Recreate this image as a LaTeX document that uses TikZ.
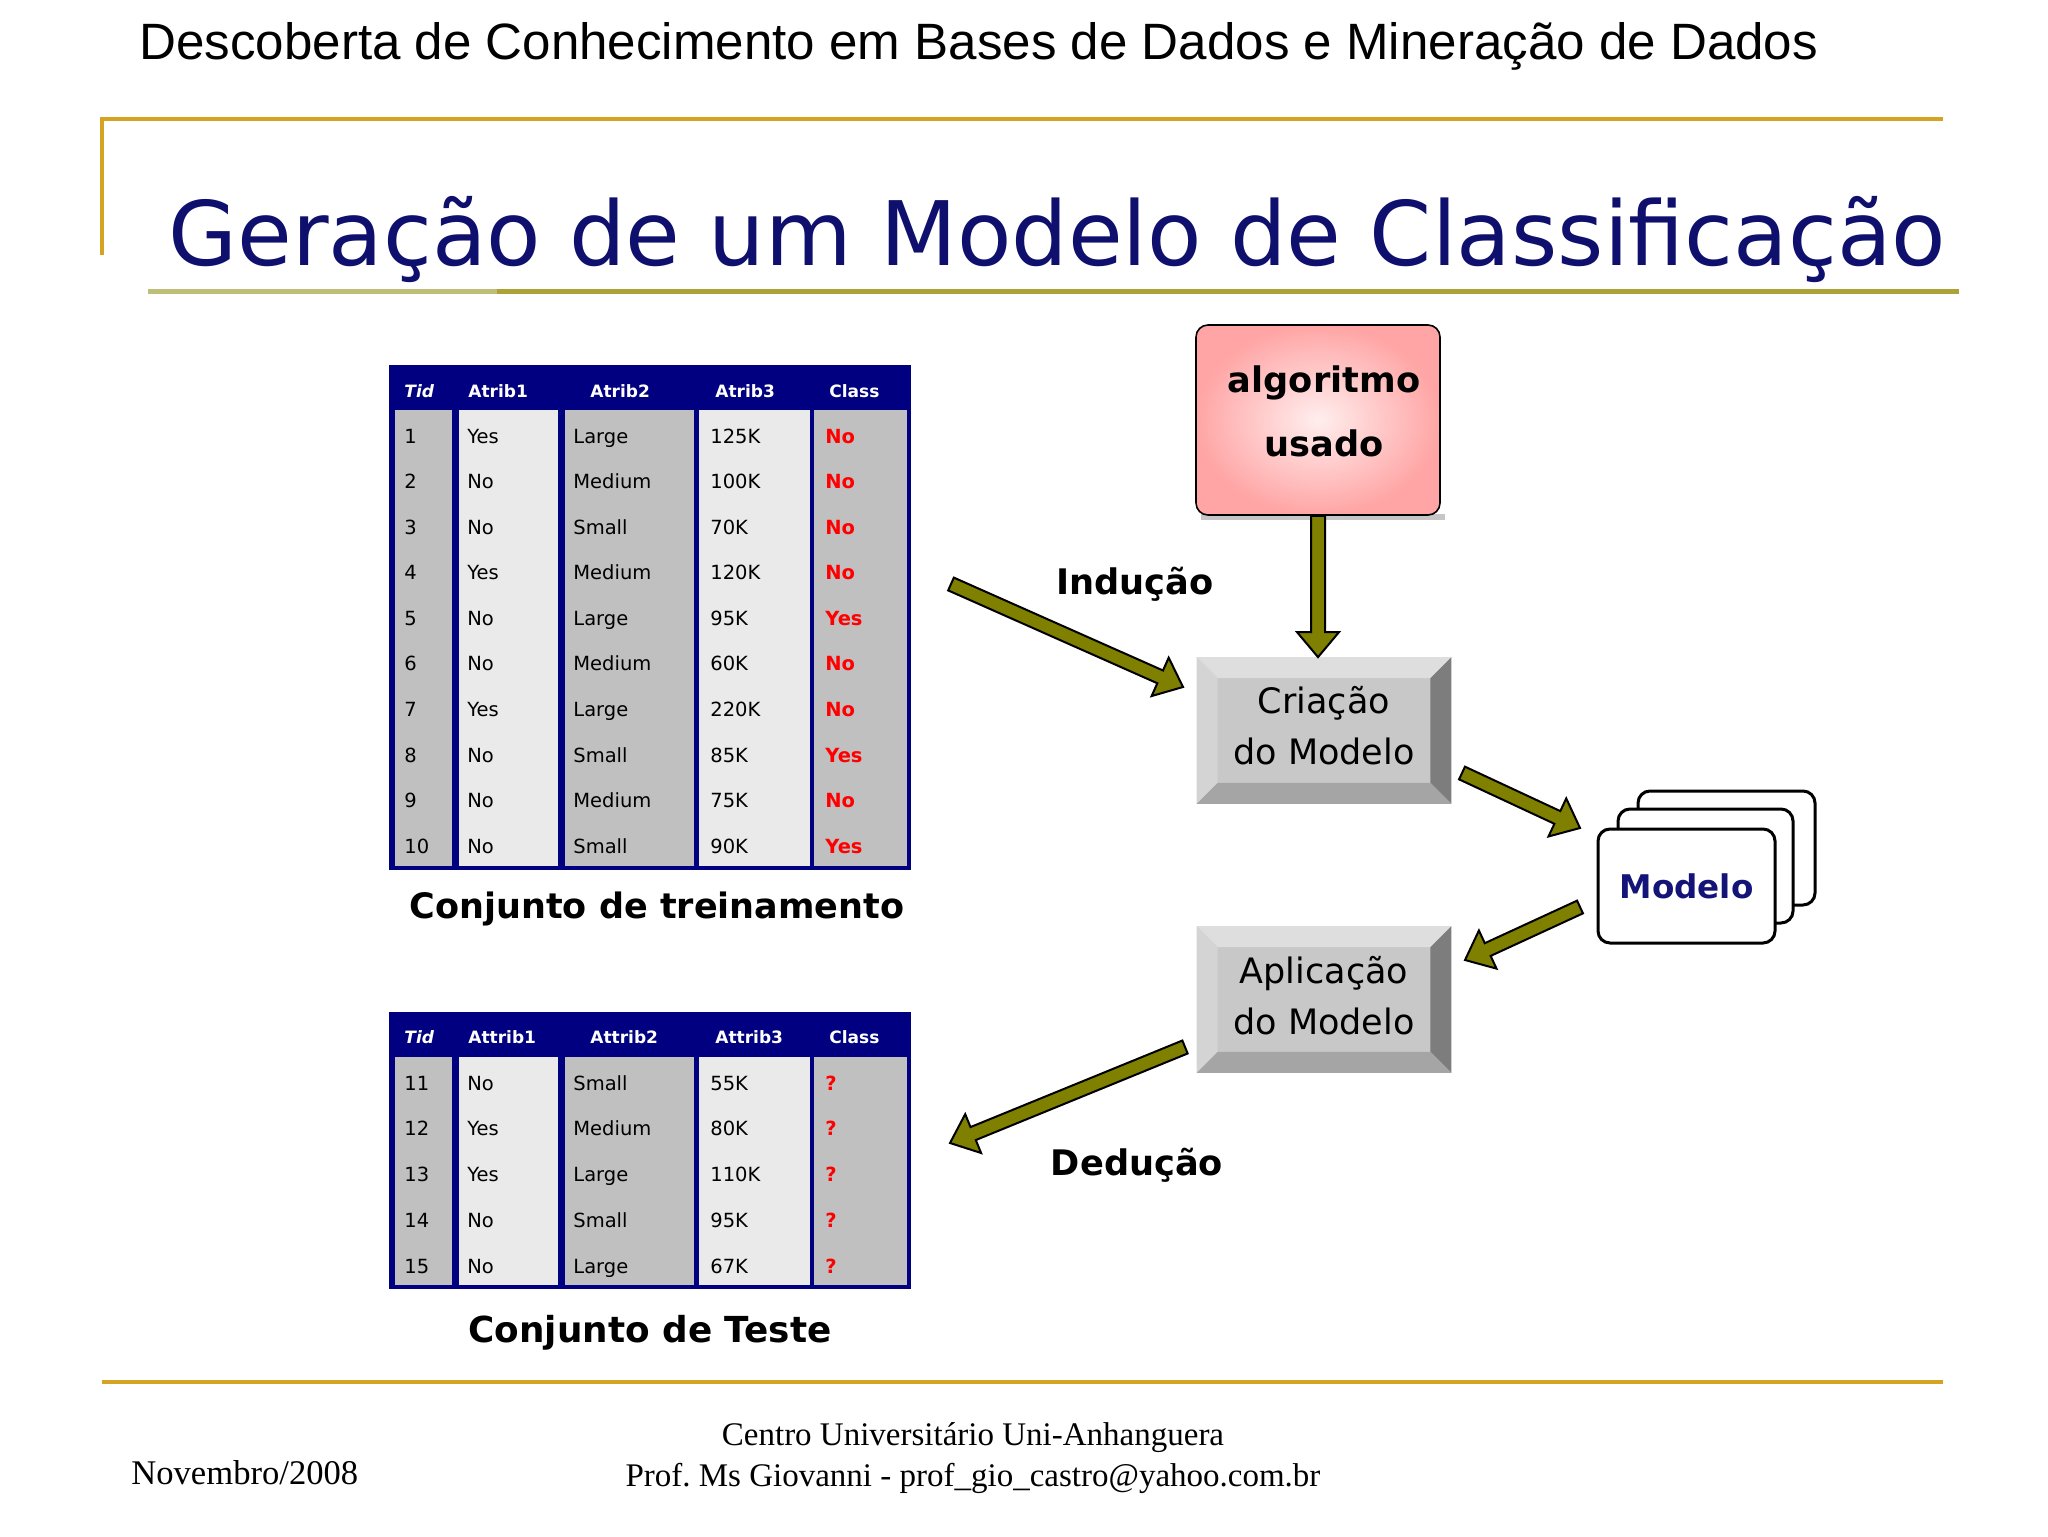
\documentclass[tikz,border=0pt]{standalone}
\usepackage{fontspec}
\setmainfont{Liberation Serif}
\newfontfamily\arialf{Liberation Sans}
\newfontfamily\tahf{DejaVu Sans}
\usetikzlibrary{calc}
\frenchspacing

\definecolor{gold}{RGB}{212,163,33}
\definecolor{titlenavy}{RGB}{15,15,110}
\definecolor{navytab}{RGB}{0,0,128}
\definecolor{olivea}{RGB}{128,128,0}
\definecolor{cellgray}{RGB}{192,192,192}
\definecolor{celllight}{RGB}{234,234,234}
\definecolor{ulinelight}{RGB}{190,190,120}
\definecolor{ulinedark}{RGB}{172,162,55}
\definecolor{bvface}{RGB}{200,200,200}
\definecolor{bvtop}{RGB}{222,222,222}
\definecolor{bvleft}{RGB}{212,212,212}
\definecolor{bvright}{RGB}{125,125,125}
\definecolor{bvbottom}{RGB}{165,165,165}
\definecolor{pinkin}{RGB}{255,238,238}
\definecolor{pinkout}{RGB}{255,165,165}
\definecolor{modnavy}{RGB}{20,20,120}

\newcommand{\blockarrow}[3]{%
  \coordinate (#3h) at ($(#2)!12.5pt!(#1)$);
  \draw[arrowbody] ($(#1)!3.5pt!90:(#2)$) -- ($(#3h)!3.5pt!90:(#2)$) -- ($(#3h)!10.5pt!90:(#2)$) -- (#2) -- ($(#3h)!10.5pt!-90:(#2)$) -- ($(#3h)!3.5pt!-90:(#2)$) -- ($(#1)!3.5pt!-90:(#2)$) -- cycle;
}
\newcommand{\bevelbox}[1]{%
  \fill[bvtop] (#1.north west) -- (#1.north east) -- ($(#1.north east)+(-21,21)$) -- ($(#1.north west)+(21,21)$) -- cycle;
  \fill[bvleft] (#1.north west) -- ($(#1.north west)+(21,21)$) -- ($(#1.south west)+(21,-21)$) -- (#1.south west) -- cycle;
  \fill[bvright] (#1.north east) -- ($(#1.north east)+(-21,21)$) -- ($(#1.south east)+(-21,-21)$) -- (#1.south east) -- cycle;
  \fill[bvbottom] (#1.south west) -- ($(#1.south west)+(21,-21)$) -- ($(#1.south east)+(-21,-21)$) -- (#1.south east) -- cycle;
}

\begin{document}
\begin{tikzpicture}[x=0.5pt,y=-0.5pt,
  goldline/.style={draw=gold, line width=2pt},
  cell/.style={font=\tahf\fontsize{9.75}{11}\selectfont, anchor=west, inner sep=0pt, text height=7.1pt, text depth=0pt},
  redcell/.style={cell, text=red, font=\tahf\bfseries\fontsize{9.75}{11}\selectfont},
  hdr/.style={font=\tahf\bfseries\fontsize{8.5}{10}\selectfont, text=white, anchor=west, inner sep=0pt, text height=6.2pt, text depth=0pt},
  hdrit/.style={hdr, font=\tahf\bfseries\itshape\fontsize{8.5}{10}\selectfont},
  captionstyle/.style={font=\tahf\bfseries\fontsize{17.5}{20}\selectfont, inner sep=0pt},
  labelstyle/.style={font=\tahf\bfseries\fontsize{17.6}{20}\selectfont, inner sep=0pt},
  bevelnode/.style={fill=bvface, minimum width=127pt, minimum height=73pt, inner sep=0pt},
  boxtext/.style={align=center, inner sep=0pt, font=\tahf\fontsize{17.5}{25.5}\selectfont},
  algostyle/.style={draw=black, line width=0.8pt, rounded corners=6pt, inner color=pinkin, outer color=pinkout, minimum width=122pt, minimum height=95pt, inner sep=0pt},
  card/.style={draw=black, line width=1.5pt, fill=white, rounded corners=6pt},
  arrowbody/.style={fill=olivea, draw=black, line width=1pt, line join=miter},
  footer/.style={font=\fontsize{16.5}{20}\selectfont, inner sep=0pt}
]
\useasboundingbox (0,0) rectangle (2048,1536);
\fill[white] (0,0) rectangle (2048,1536);

% header
\node[anchor=base west, inner sep=0pt, font=\arialf\fontsize{25.55}{30}\selectfont] (header) at (139,60) {Descoberta de Conhecimento em Bases de Dados e Mineração de Dados};

% gold frame lines
\draw[goldline] (102,255) -- (102,119) -- (1943,119);
\draw[goldline] (102,1382) -- (1943,1382);

% title
\node[anchor=base west, inner sep=0pt, text=titlenavy, font=\tahf\fontsize{44.5}{50}\selectfont] (title) at (168,265) {Geração de um Modelo de Classificação};
\draw[ulinelight, line width=2.5pt] (148,291) -- (497,291);
\draw[ulinedark, line width=2.5pt] (497,291) -- (1959,291);

% ---------- training table
\fill[navytab] (389,365) rectangle (911,870);
\foreach \xa/\xb/\cc in {395/452/cellgray,459/558/celllight,565/694/cellgray,699/810/celllight,814/907/cellgray}
  \fill[\cc] (\xa,410) rectangle (\xb,866);
\node[hdrit] (trh1) at (404,391) {Tid};
\node[hdr] (trh2) at (468,391) {Atrib1};
\node[hdr] (trh3) at (590,391) {Atrib2};
\node[hdr] (trh4) at (715,391) {Atrib3};
\node[hdr] (trh5) at (829,391) {Class};
\foreach \a/\b/\c/\d/\e [count=\i] in {1/Yes/Large/125K/No,2/No/Medium/100K/No,3/No/Small/70K/No,4/Yes/Medium/120K/No,5/No/Large/95K/Yes,6/No/Medium/60K/No,7/Yes/Large/220K/No,8/No/Small/85K/Yes,9/No/Medium/75K/No,10/No/Small/90K/Yes}{
  \node[cell] (tr-\i-1) at (404,{436+(\i-1)*45.56}) {\a};
  \node[cell] (tr-\i-2) at (467,{436+(\i-1)*45.56}) {\b};
  \node[cell] (tr-\i-3) at (573,{436+(\i-1)*45.56}) {\c};
  \node[cell] (tr-\i-4) at (710,{436+(\i-1)*45.56}) {\d};
  \node[redcell] (tr-\i-5) at (825,{436+(\i-1)*45.56}) {\e};
}
\node[captionstyle] (capTrain) at (657,909) {Conjunto de treinamento};

% ---------- test table
\fill[navytab] (389,1012) rectangle (911,1289);
\foreach \xa/\xb/\cc in {395/452/cellgray,459/558/celllight,565/694/cellgray,699/810/celllight,814/907/cellgray}
  \fill[\cc] (\xa,1057) rectangle (\xb,1285);
\node[hdrit] (teh1) at (404,1037) {Tid};
\node[hdr] (teh2) at (468,1037) {Attrib1};
\node[hdr] (teh3) at (590,1037) {Attrib2};
\node[hdr] (teh4) at (715,1037) {Attrib3};
\node[hdr] (teh5) at (829,1037) {Class};
\foreach \a/\b/\c/\d [count=\i] in {11/No/Small/55K,12/Yes/Medium/80K,13/Yes/Large/110K,14/No/Small/95K,15/No/Large/67K}{
  \node[cell] (te-\i-1) at (404,{1083+(\i-1)*45.75}) {\a};
  \node[cell] (te-\i-2) at (467,{1083+(\i-1)*45.75}) {\b};
  \node[cell] (te-\i-3) at (573,{1083+(\i-1)*45.75}) {\c};
  \node[cell] (te-\i-4) at (710,{1083+(\i-1)*45.75}) {\d};
  \node[redcell] (te-\i-5) at (825,{1083+(\i-1)*45.75}) {?};
}
\node[captionstyle, font=\tahf\bfseries\fontsize{17.9}{20}\selectfont] (capTest) at (650,1333) {Conjunto de Teste};

% ---------- algorithm box
\fill[gray!45] (1201,514) rectangle (1445,520);
\node[algostyle] (algo) at (1318,420) {};
\node[boxtext, font=\tahf\bfseries\fontsize{17.6}{32}\selectfont] (algotext) at (1324,411) {algoritmo\\usado};

% ---------- bevel boxes
\node[bevelnode] (criacao) at (1324,730.5) {};
\bevelbox{criacao}
\node[boxtext] (criacaotext) at (1324,726) {Criação\\do Modelo};
\node[bevelnode] (aplicacao) at (1324,999.5) {};
\bevelbox{aplicacao}
\node[boxtext] (aplicacaotext) at (1324,996) {Aplicação\\do Modelo};

% ---------- model cards
\draw[card] (1638,791) rectangle (1815,905);
\draw[card] (1618,809) rectangle (1793,923);
\node[card, minimum width=88.5pt, minimum height=57pt, inner sep=0pt, text=modnavy, font=\tahf\bfseries\fontsize{16.3}{20}\selectfont] (modelo) at (1686.5,886) {Modelo};

% ---------- labels
\node[labelstyle] (inducao) at (1135,584) {Indução};
\node[labelstyle] (deducao) at (1137,1165) {Dedução};

% ---------- arrows
\coordinate (ia) at (951,584);
\coordinate (ib) at (1183,687);
\blockarrow{ia}{ib}{ai}
\coordinate (va) at (algo.south);
\coordinate (vb) at (algo.south |- criacao.north);
\blockarrow{va}{vb}{av}
\coordinate (ma) at (1462,773);
\coordinate (mb) at (1580,828);
\blockarrow{ma}{mb}{am}
\coordinate (na) at (1580,907);
\coordinate (nb) at (1465,960);
\blockarrow{na}{nb}{an}
\coordinate (da) at (1185,1047);
\coordinate (db) at (950,1143);
\blockarrow{da}{db}{ad}

% ---------- footer
\node[footer, anchor=base west, font=\fontsize{17.3}{20}\selectfont] (date) at (131,1484) {Novembro/2008};
\node[footer, anchor=base] (uni) at (973,1445) {Centro Universitário Uni-Anhanguera};
\node[footer, anchor=base] (prof) at (973,1486) {Prof.\ Ms Giovanni - prof\_gio\_castro@yahoo.com.br};
\end{tikzpicture}
\end{document}
